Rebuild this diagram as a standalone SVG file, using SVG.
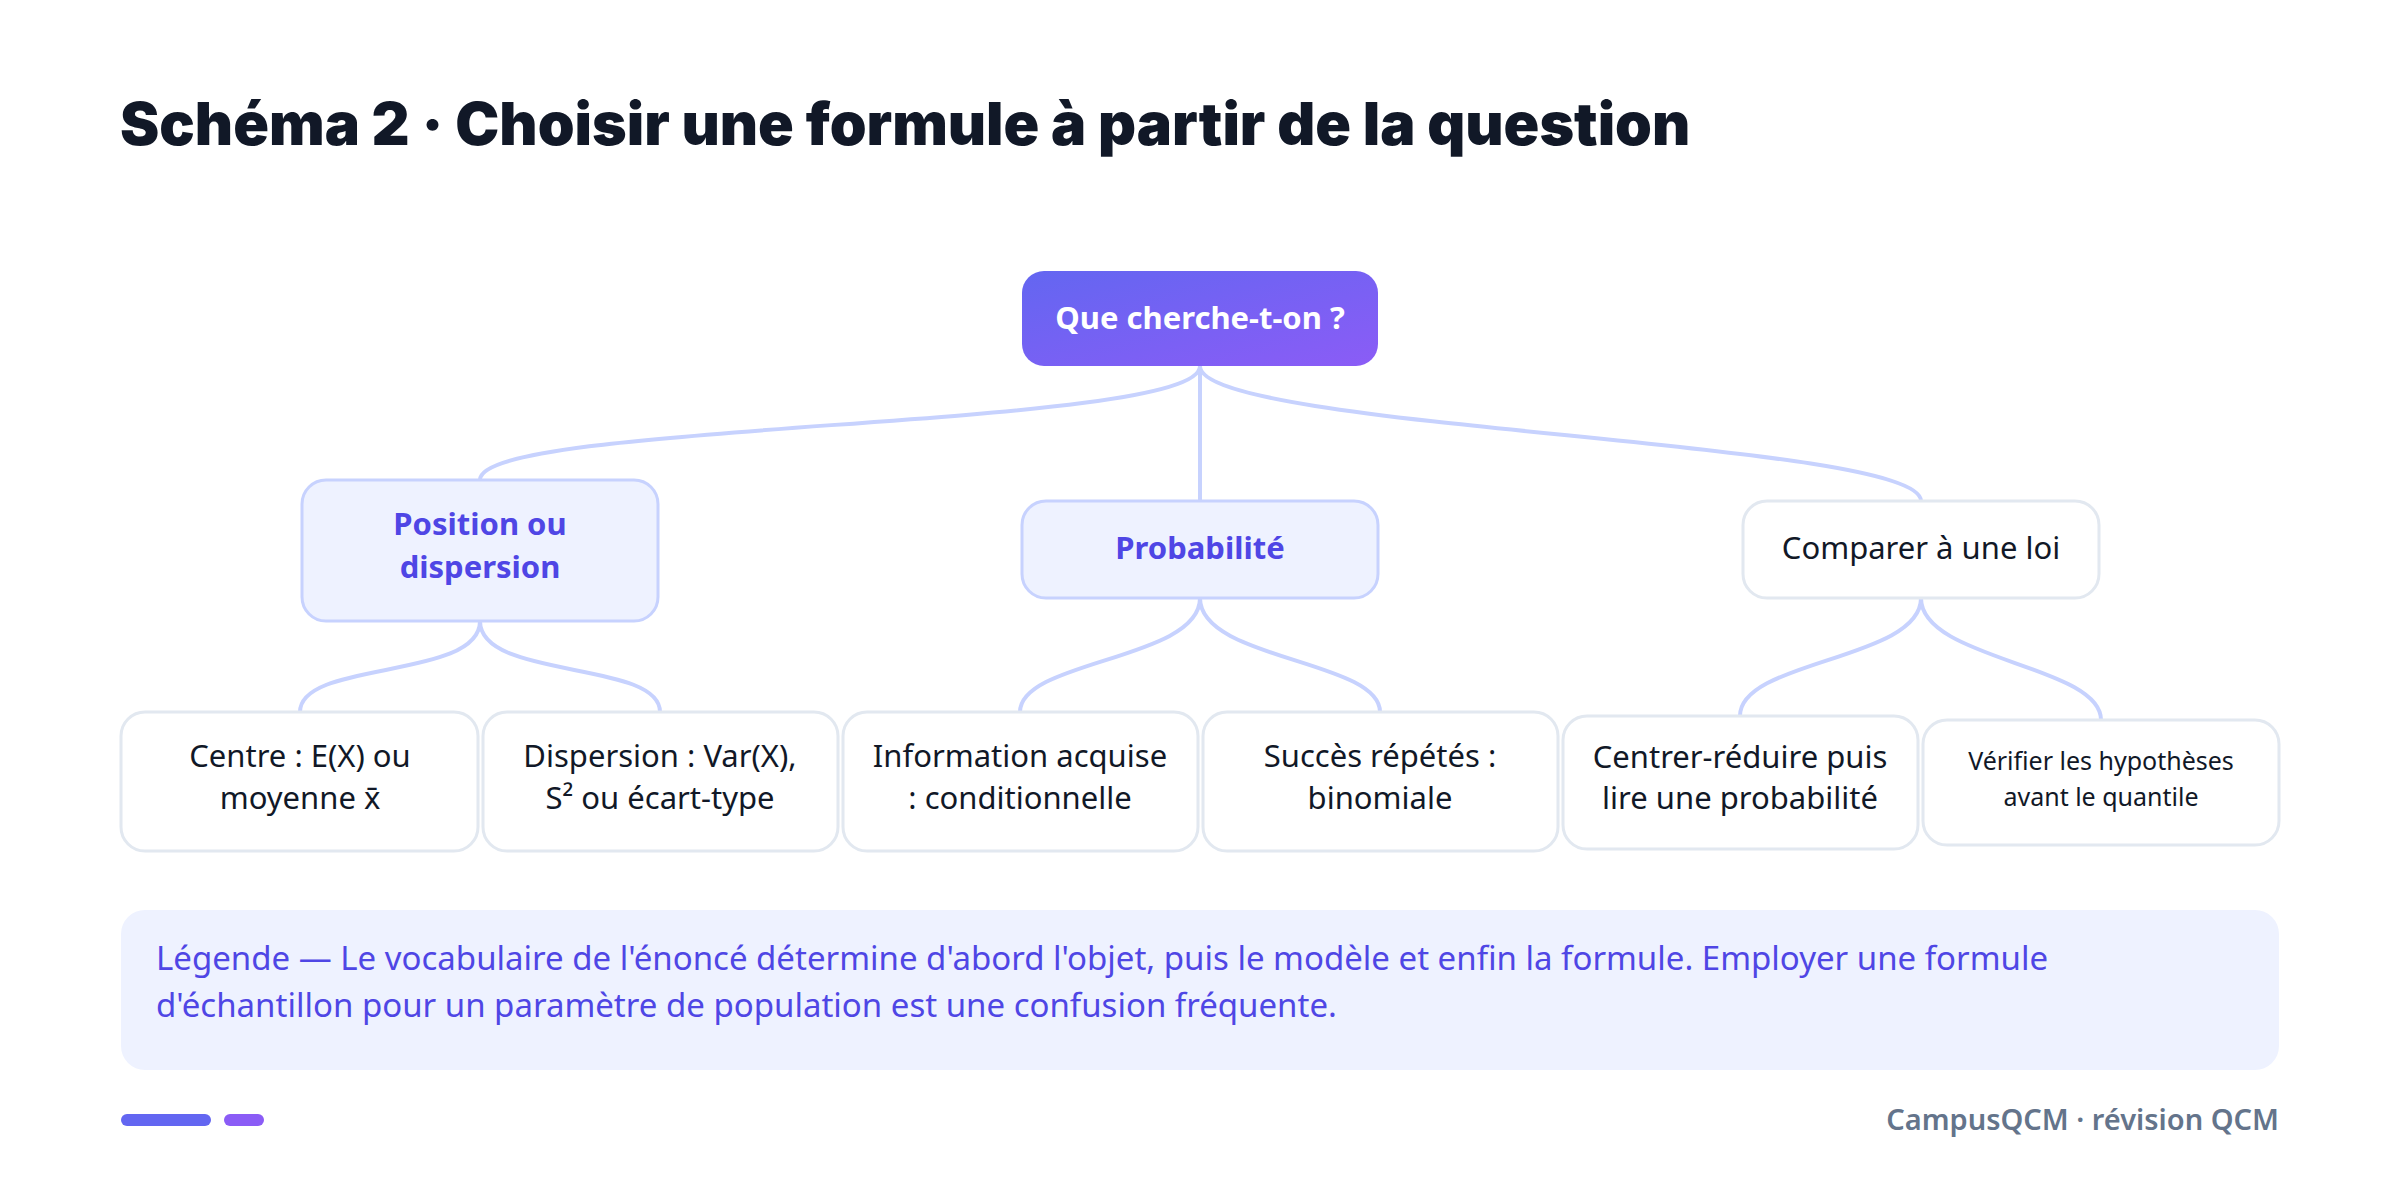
<svg xmlns="http://www.w3.org/2000/svg" width="2400" height="1178" viewBox="0 0 2400 1178">
<defs>
<linearGradient id="g" x1="0" y1="0" x2="1" y2="1"><stop offset="0" stop-color="#6366f1"/><stop offset="1" stop-color="#8b5cf6"/></linearGradient>
<style>
.t{font-family:"Noto Sans","Open Sans",sans-serif;text-anchor:middle}
.leaf rect{fill:#fff;stroke:#e2e8f0;stroke-width:3}
.leaf text{font-size:31px;fill:#111827}
.mid rect{fill:#eef2ff;stroke:#c7d2fe;stroke-width:3}
.mid text{font-size:31px;font-weight:700;fill:#4f46e5}
#connectors path{fill:none;stroke:#c7d2fe;stroke-width:4}
</style>
</defs>
<rect width="2400" height="1178" fill="#fff"/>
<text x="120" y="145" font-family="Inter,Lato,sans-serif" font-weight="900" font-size="59" fill="#111827">Schéma 2 · Choisir une formule à partir de la question</text>
<g id="connectors">
<path d="M1200 366 C1200 430 480 420 480 480"/>
<path d="M1200 366 L1200 501"/>
<path d="M1200 366 C1200 430 1921 440 1921 501"/>
<path d="M480 621 C480 680 300 660 300 712"/>
<path d="M480 621 C480 680 660 660 660 712"/>
<path d="M1200 598 C1200 660 1020 660 1020 712"/>
<path d="M1200 598 C1200 660 1380 660 1380 712"/>
<path d="M1921 598 C1921 660 1740 660 1740 716"/>
<path d="M1921 598 C1921 660 2101 665 2101 720"/>
</g>
<g id="root"><rect x="1022" y="271" width="356" height="95" rx="22" fill="url(#g)"/><text class="t" x="1200" y="329" font-size="31" font-weight="700" fill="#fff">Que cherche-t-on ?</text></g>
<g id="n-pos" class="mid"><rect x="302" y="480" width="356" height="141" rx="24"/><text class="t" x="480" y="535">Position ou</text><text class="t" x="480" y="578">dispersion</text></g>
<g id="n-prob" class="mid"><rect x="1022" y="501" width="356" height="97" rx="24"/><text class="t" x="1200" y="559">Probabilité</text></g>
<g id="n-comp" class="leaf"><rect x="1743" y="501" width="356" height="97" rx="24"/><text class="t" x="1921" y="559">Comparer à une loi</text></g>
<g id="l1" class="leaf"><rect x="121" y="712" width="357" height="139" rx="24"/><text class="t" x="300" y="767">Centre : E(X) ou</text><text class="t" x="300" y="809">moyenne x̄</text></g>
<g id="l2" class="leaf"><rect x="483" y="712" width="355" height="139" rx="24"/><text class="t" x="660" y="767">Dispersion : Var(X),</text><text class="t" x="660" y="809">S² ou écart-type</text></g>
<g id="l3" class="leaf"><rect x="843" y="712" width="355" height="139" rx="24"/><text class="t" x="1020" y="767">Information acquise</text><text class="t" x="1020" y="809">: conditionnelle</text></g>
<g id="l4" class="leaf"><rect x="1203" y="712" width="355" height="139" rx="24"/><text class="t" x="1380" y="767">Succès répétés :</text><text class="t" x="1380" y="809">binomiale</text></g>
<g id="l5" class="leaf"><rect x="1563" y="716" width="355" height="133" rx="24"/><text class="t" x="1740" y="768">Centrer-réduire puis</text><text class="t" x="1740" y="809">lire une probabilité</text></g>
<g id="l6" class="leaf"><rect x="1923" y="720" width="356" height="125" rx="24"/><text class="t" x="2101" y="770" style="font-size:25px">Vérifier les hypothèses</text><text class="t" x="2101" y="806" style="font-size:25px">avant le quantile</text></g>
<g id="legend"><rect x="121" y="910" width="2158" height="160" rx="24" fill="#eef2ff"/>
<text x="156" y="970" font-family="Noto Sans,sans-serif" font-size="33" fill="#4f46e5">Légende — Le vocabulaire de l'énoncé détermine d'abord l'objet, puis le modèle et enfin la formule. Employer une formule</text>
<text x="156" y="1017" font-family="Noto Sans,sans-serif" font-size="33" fill="#4f46e5">d'échantillon pour un paramètre de population est une confusion fréquente.</text></g>
<rect x="121" y="1114" width="90" height="12" rx="6" fill="#6366f1"/>
<rect x="224" y="1114" width="40" height="12" rx="6" fill="#8b5cf6"/>
<text x="2279" y="1130" text-anchor="end" font-family="Noto Sans,sans-serif" font-weight="600" font-size="29" fill="#64748b">CampusQCM · révision QCM</text>
</svg>
